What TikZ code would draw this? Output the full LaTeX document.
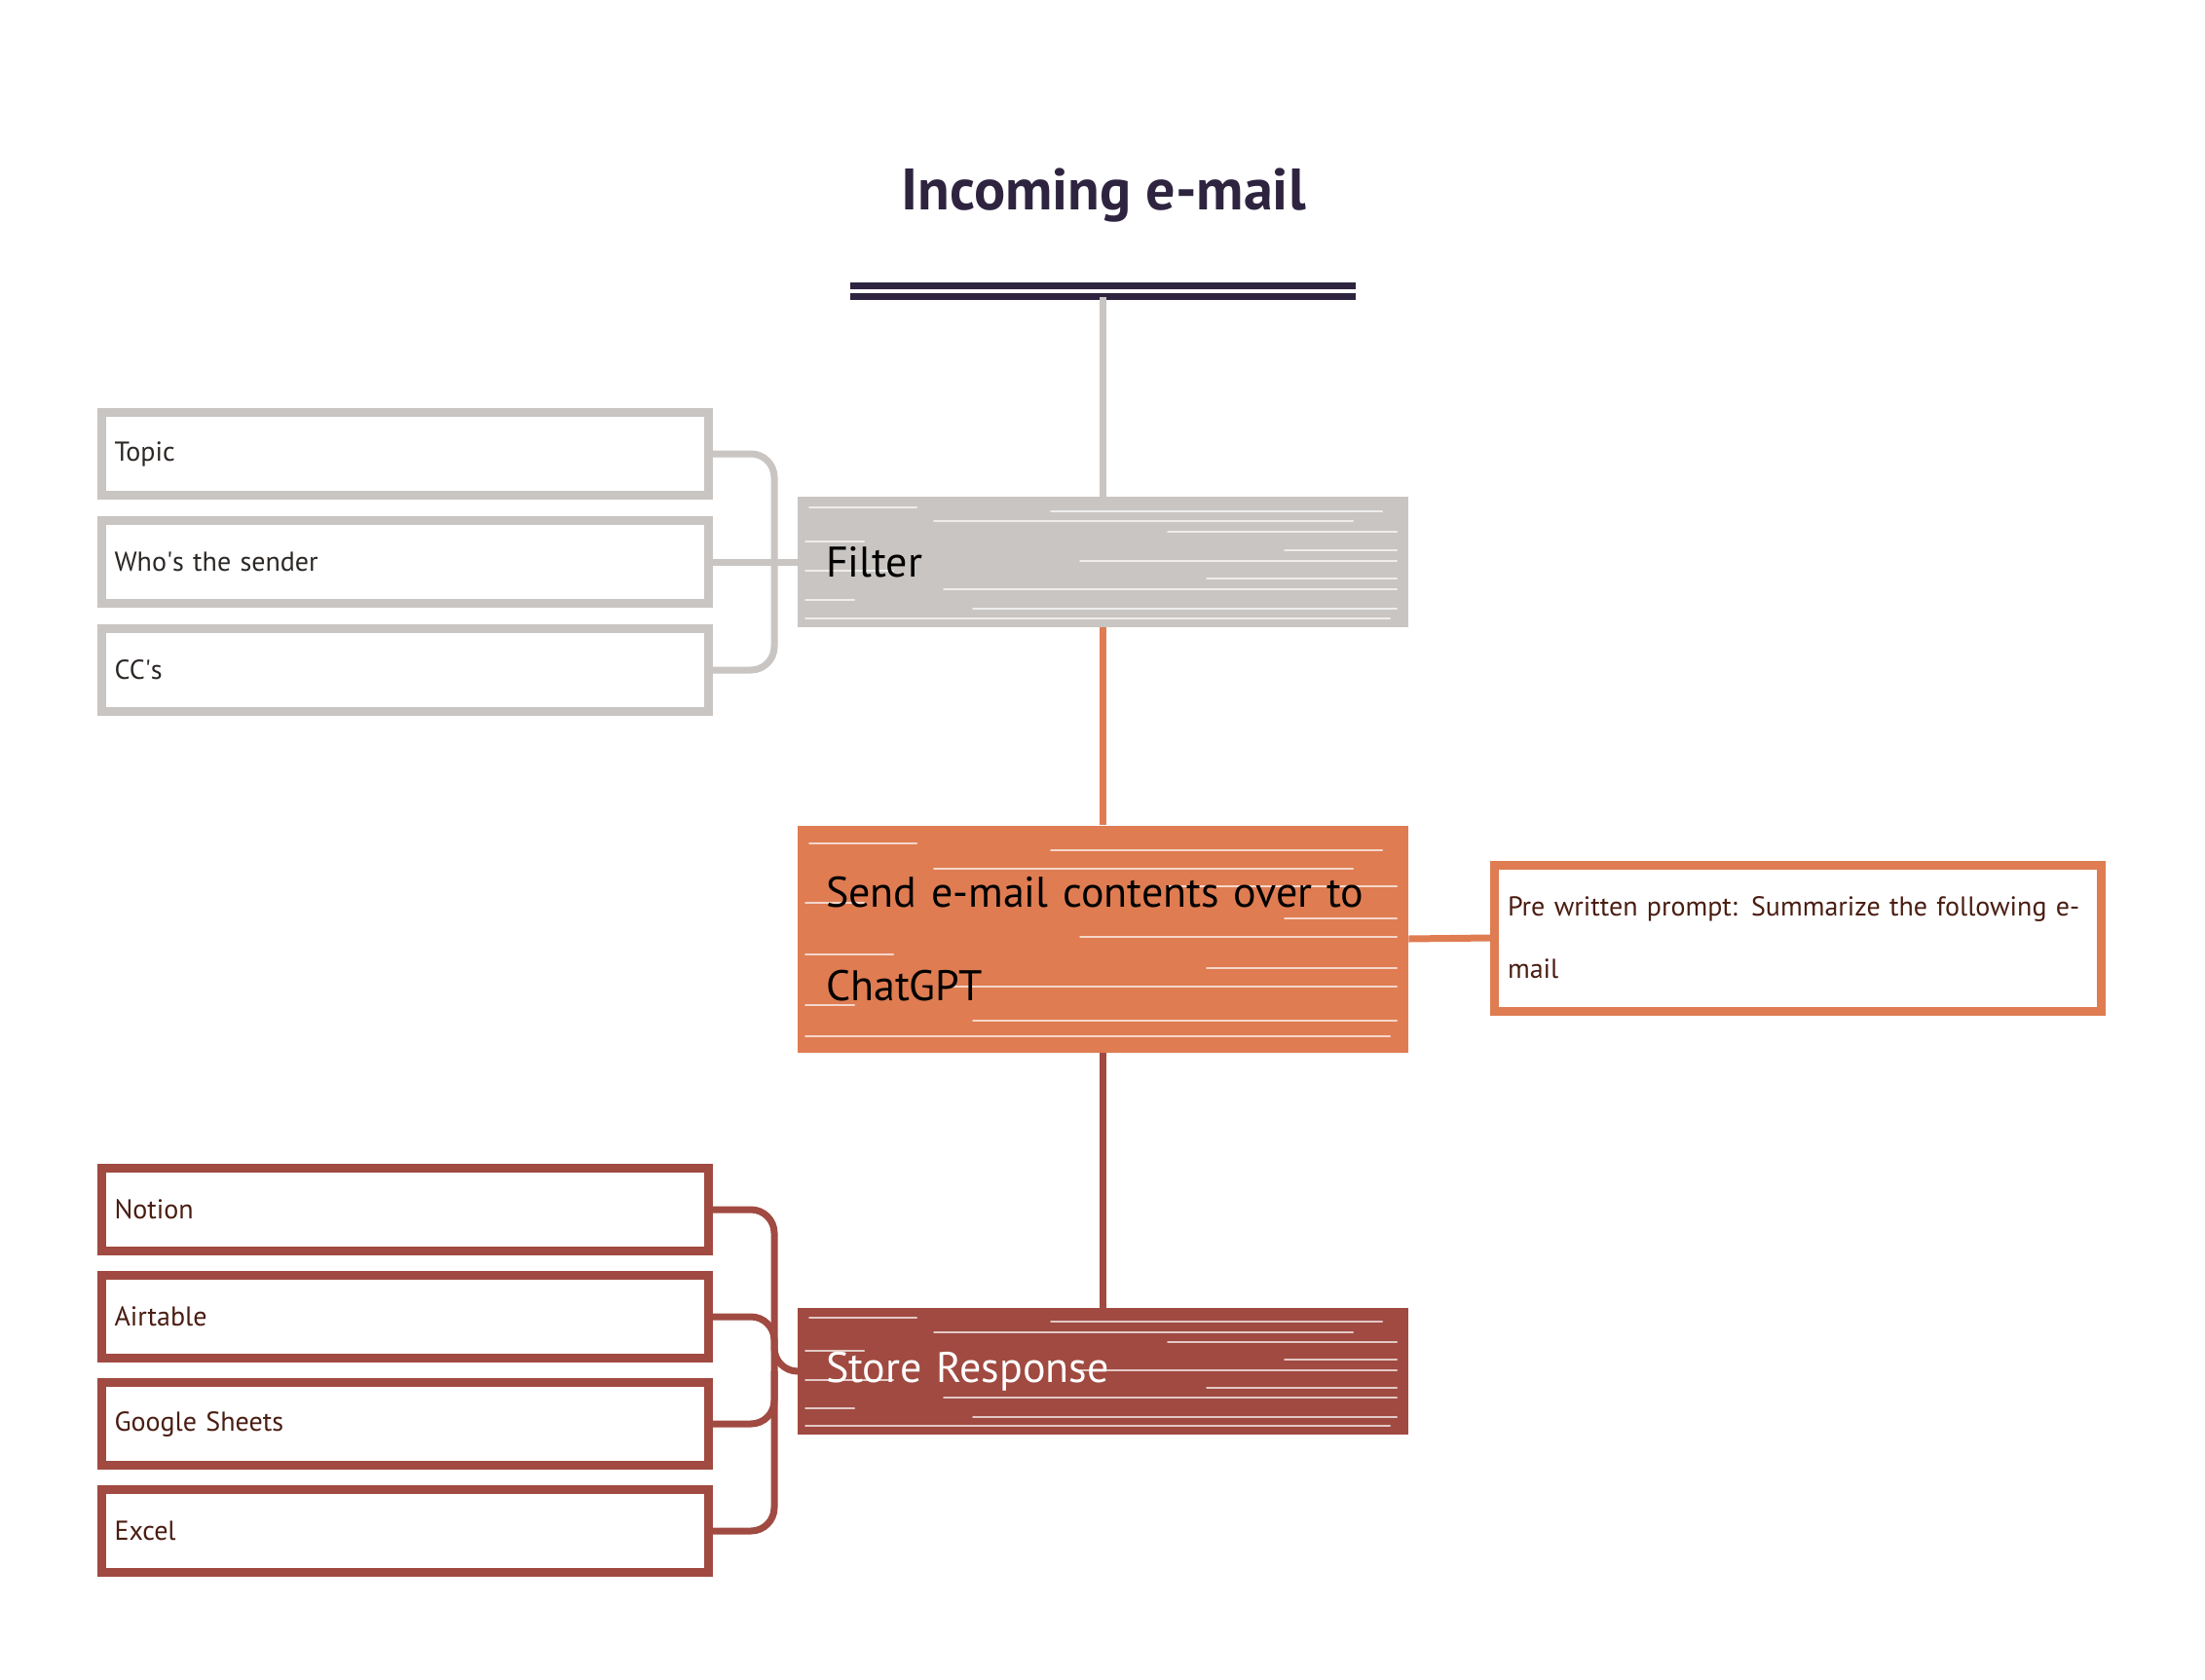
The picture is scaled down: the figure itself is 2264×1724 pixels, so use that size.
\documentclass[tikz,border=0pt]{standalone}
\usepackage{fontspec}
\setmainfont{PT Sans}
\usetikzlibrary{calc}

\definecolor{ink}{HTML}{2E2440}
\definecolor{stone}{HTML}{C8C5C2}
\definecolor{clay}{HTML}{DF7C52}
\definecolor{brick}{HTML}{A04A41}
\definecolor{soot}{HTML}{2B2725}
\definecolor{umber}{HTML}{4A1D12}

\tikzset{
  streak/.style={white, line width=1pt, opacity=0.7, line cap=round},
  hatch/.style={path picture={
    \foreach \f/\dx/\len in {0.08/12/110, 0.11/260/340, 0.19/140/430, 0.27/380/235,
                             0.34/8/60, 0.41/500/115, 0.49/290/325, 0.57/8/90,
                             0.63/420/195, 0.71/150/465, 0.79/8/50, 0.86/180/435, 0.93/8/600}
      \draw[streak] ($(path picture bounding box.north west)!\f!(path picture bounding box.south west)+(\dx,0)$) -- ++(\len,0);
  }},
  stepfill/.style={hatch, minimum width=313.5pt, inner xsep=14.5pt, text width=284.5pt,
    align=left, font=\fontsize{22}{48}\selectfont},
  itembox/.style={draw=#1, line width=4.5pt, fill=white, minimum width=311.5pt,
    minimum height=42.5pt, inner xsep=6.75pt, text width=298pt, align=left,
    font=\fontsize{14}{16}\selectfont},
  link/.style={draw=#1, line width=3.5pt},
}

\begin{document}
\begin{tikzpicture}[x=0.5pt,y=-0.5pt]
\useasboundingbox (0,0) rectangle (2264,1724);

\node (mail) at (1133,201) {\fontsize{30}{33}\selectfont\bfseries\color{ink}Incoming e-mail};
\node[minimum width=259pt, minimum height=5.5pt, inner sep=0pt] (bar) at (1132.5,299) {};
\draw[ink, line width=3.5pt] (bar.north west) -- (bar.north east);
\draw[ink, line width=3.5pt] (bar.south west) -- (bar.south east);

% main steps
\node[stepfill, fill=stone, minimum height=67pt] (filter) at (1132.5,577) {Filter};
\node[stepfill, fill=clay, minimum height=116.5pt] (send) at (1132.5,964) {Send e-mail contents over to\\ChatGPT};
\node[stepfill, fill=brick, text=white, minimum height=65pt] (store) at (1132.5,1408) {Store Response};

\draw[link=stone] (bar.south) -- (filter.north);
\draw[link=clay] (filter.south) -- (send.north);
\draw[link=brick] (send.south) -- (store.north);

% prompt
\node[itembox=clay, text=umber, minimum height=75pt, font=\fontsize{14}{32}\selectfont] (prompt) at (1846,963) {Pre written prompt: Summarize the following e-\\mail};
\draw[link=clay] (send.east) -- (prompt.west);

% filter criteria
\node[itembox=stone, text=soot] (topic) at (415.5,466) {Topic};
\node[itembox=stone, text=soot] (sender) at (415.5,577) {Who\textquotesingle s the sender};
\node[itembox=stone, text=soot] (ccs) at (415.5,688) {CC\textquotesingle s};

\coordinate (stonehub) at (795,577);
\draw[link=stone, rounded corners=12pt] (topic.east) -| (stonehub) |- (ccs.east);
\draw[link=stone] (sender.east) -- (filter.west);

% storage targets
\node[itembox=brick, text=umber] (notion) at (415.5,1242) {Notion};
\node[itembox=brick, text=umber] (airtable) at (415.5,1352) {Airtable};
\node[itembox=brick, text=umber] (sheets) at (415.5,1462) {Google Sheets};
\node[itembox=brick, text=umber] (excel) at (415.5,1572) {Excel};

\coordinate (brickhub) at (795,1408);
\draw[link=brick, rounded corners=12pt] (notion.east) -| (brickhub) |- (excel.east);
\draw[link=brick, rounded corners=12pt] (airtable.east) -| (brickhub) -- (store.west);
\draw[link=brick, rounded corners=12pt] (sheets.east) -| (brickhub);

\end{tikzpicture}
\end{document}
